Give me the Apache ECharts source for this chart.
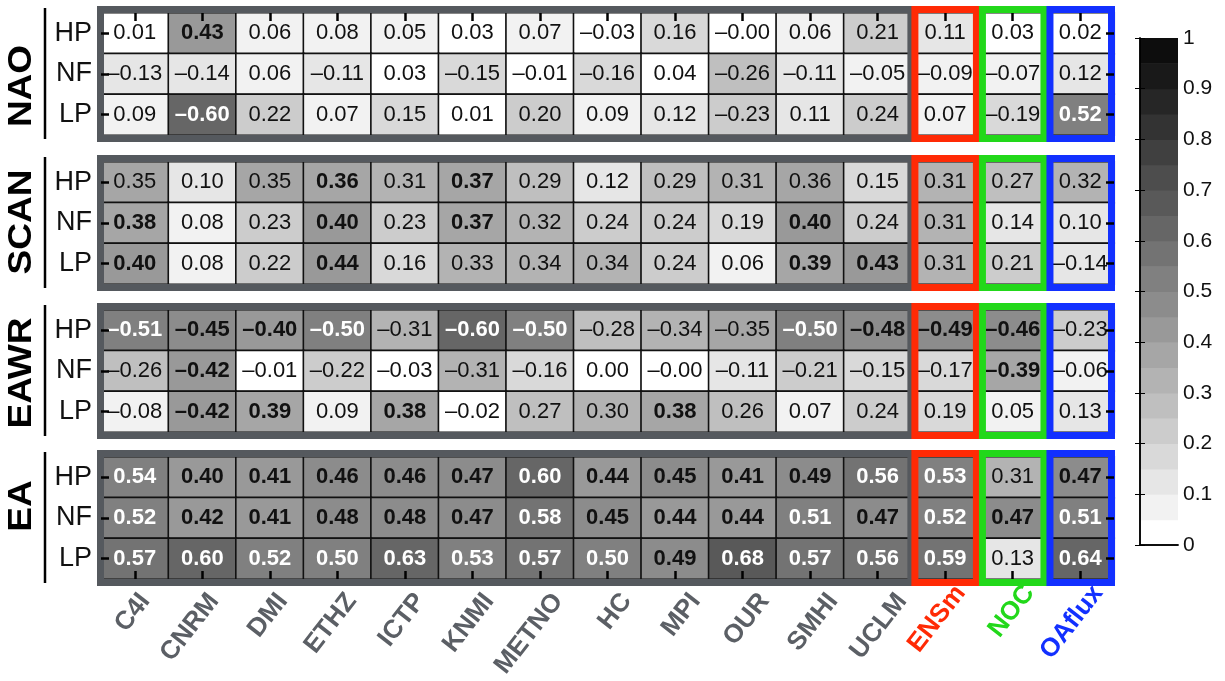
<!DOCTYPE html>
<html>
<head>
<meta charset="utf-8">
<script src="https://cdn.jsdelivr.net/npm/echarts@6/dist/echarts.min.js"></script>
<style>
  html, body { margin: 0; padding: 0; background: #fff; }
  #chart { width: 1225px; height: 681px; }
</style>
</head>
<body>
<div id="chart"></div>
<script>
// Correlations of climate modes with heat-flux components, per model / dataset
const models = ['C4I', 'CNRM', 'DMI', 'ETHZ', 'ICTP', 'KNMI', 'METNO', 'HC', 'MPI', 'OUR', 'SMHI', 'UCLM', 'ENSm', 'NOC', 'OAflux'];
const components = ['HP', 'NF', 'LP'];
const modes = ['NAO', 'SCAN', 'EAWR', 'EA'];

const naoValues = [
  [0.01, 0.43, 0.06, 0.08, 0.05, 0.03, 0.07, -0.03, 0.16, -0, 0.06, 0.21, 0.11, 0.03, 0.02],
  [-0.13, -0.14, 0.06, -0.11, 0.03, -0.15, -0.01, -0.16, 0.04, -0.26, -0.11, -0.05, -0.09, -0.07, 0.12],
  [0.09, -0.60, 0.22, 0.07, 0.15, 0.01, 0.20, 0.09, 0.12, -0.23, 0.11, 0.24, 0.07, -0.19, 0.52]
];
const scanValues = [
  [0.35, 0.10, 0.35, 0.36, 0.31, 0.37, 0.29, 0.12, 0.29, 0.31, 0.36, 0.15, 0.31, 0.27, 0.32],
  [0.38, 0.08, 0.23, 0.40, 0.23, 0.37, 0.32, 0.24, 0.24, 0.19, 0.40, 0.24, 0.31, 0.14, 0.10],
  [0.40, 0.08, 0.22, 0.44, 0.16, 0.33, 0.34, 0.34, 0.24, 0.06, 0.39, 0.43, 0.31, 0.21, -0.14]
];
const eawrValues = [
  [-0.51, -0.45, -0.40, -0.50, -0.31, -0.60, -0.50, -0.28, -0.34, -0.35, -0.50, -0.48, -0.49, -0.46, -0.23],
  [-0.26, -0.42, -0.01, -0.22, -0.03, -0.31, -0.16, 0.00, -0, -0.11, -0.21, -0.15, -0.17, -0.39, -0.06],
  [-0.08, -0.42, 0.39, 0.09, 0.38, -0.02, 0.27, 0.30, 0.38, 0.26, 0.07, 0.24, 0.19, 0.05, 0.13]
];
const eaValues = [
  [0.54, 0.40, 0.41, 0.46, 0.46, 0.47, 0.60, 0.44, 0.45, 0.41, 0.49, 0.56, 0.53, 0.31, 0.47],
  [0.52, 0.42, 0.41, 0.48, 0.48, 0.47, 0.58, 0.45, 0.44, 0.44, 0.51, 0.47, 0.52, 0.47, 0.51],
  [0.57, 0.60, 0.52, 0.50, 0.63, 0.53, 0.57, 0.50, 0.49, 0.68, 0.57, 0.56, 0.59, 0.13, 0.64]
];

// significant correlations (1 = significant, printed in bold)
const naoSignificant = ['010000000000000', '000000000000000', '010000000000001'];
const scanSignificant = ['000101000000000', '100101000010000', '100100000011000'];
const eawrSignificant = ['111101100011110', '010000000000010', '011010001000000'];
const eaSignificant = ['111111111111101', '111111111111111', '111111111111101'];

// colour-bar levels of |r|
const colorLevels = [0, 0.05, 0.1, 0.15, 0.2, 0.25, 0.3, 0.35, 0.4, 0.45, 0.5, 0.55, 0.6, 0.65, 0.7, 0.75, 0.8, 0.85, 0.9, 0.95, 1];
const colorTicks = [0, 0.1, 0.2, 0.3, 0.4, 0.5, 0.6, 0.7, 0.8, 0.9, 1];

const panelValues = [naoValues, scanValues, eawrValues, eaValues];
const panelSignificant = [naoSignificant, scanSignificant, eawrSignificant, eaSignificant];

// ---- styling / layout ----
const FONT = '"Liberation Sans", Arial, Helvetica, sans-serif';
const TEXT = '#111';
const FRAME_GRAY = '#55595e';
const LABEL_GRAY = '#5b5f65';
const RED = '#ff2a05';
const GREEN = '#22d81a';
const BLUE = '#1230ff';
const GRID_LEFT = 101;
const GRID_WIDTH = 1013;
const GRID_HEIGHT = 122;
const GRID_TOPS = [13, 162, 310, 457];
const TITLE_Y = [86, 222, 373, 506];
const FRAME_W = 7;

// column groups framed in each panel: models, ensemble mean, NOC, OAflux
const frameGroups = [[0, 11, FRAME_GRAY], [12, 12, RED], [13, 13, GREEN], [14, 14, BLUE]];

function grayOf(level) {
  const g = Math.round(255 * (1 - level));
  return 'rgb(' + g + ',' + g + ',' + g + ')';
}

function fmt(v) {
  const neg = v < 0 || Object.is(v, -0);
  return (neg ? '\u2013' : '') + Math.abs(v).toFixed(2);
}

const pieces = [];
for (let i = 0; i < colorLevels.length - 1; i++) {
  pieces.push({ gte: colorLevels[i], lt: i === colorLevels.length - 2 ? 1.0001 : colorLevels[i + 1], color: grayOf(colorLevels[i]) });
}

const grids = [], xAxes = [], yAxes = [], series = [], graphics = [];
const TICK = { show: true, inside: true, alignWithLabel: true, length: 8, lineStyle: { color: '#000', width: 2.5 } };
const modelLabels = models.map((m) => {
  const colors = { ENSm: RED, NOC: GREEN, OAflux: BLUE };
  return colors[m] ? { value: m, textStyle: { color: colors[m] } } : m;
});

modes.forEach((mode, p) => {
  grids.push({ left: GRID_LEFT, top: GRID_TOPS[p], width: GRID_WIDTH, height: GRID_HEIGHT });

  const isTop = p === 0, isBottom = p === modes.length - 1;
  xAxes.push({
    type: 'category', gridIndex: p, data: modelLabels,
    position: isTop ? 'top' : 'bottom', z: 10,
    axisLine: { show: false },
    axisTick: Object.assign({}, TICK, { show: isTop || isBottom }),
    axisLabel: { show: false },
    splitLine: { show: false }
  });
  yAxes.push({
    type: 'category', gridIndex: p, data: components, inverse: true, position: 'left', z: 10,
    axisLine: { show: false },
    axisTick: TICK,
    axisLabel: { fontSize: 27, color: TEXT, fontFamily: FONT, margin: 9 },
    splitLine: { show: false }
  });
  yAxes.push({
    type: 'category', gridIndex: p, data: components, inverse: true, position: 'right', z: 10,
    axisLine: { show: false },
    axisTick: TICK,
    axisLabel: { show: false },
    splitLine: { show: false }
  });

  // mode name and the rule beside it
  const top = GRID_TOPS[p], bottom = GRID_TOPS[p] + GRID_HEIGHT;
  graphics.push({
    type: 'line', z: 20,
    shape: { x1: 45, y1: top - 5, x2: 45, y2: bottom + 4 },
    style: { stroke: '#000', lineWidth: 2.5 }
  });
  graphics.push({
    type: 'text', z: 20, x: 22, y: TITLE_Y[p], rotation: Math.PI / 2, scaleY: 0.9,
    style: {
      text: mode, fill: '#000', font: 'bold 37px ' + FONT,
      textAlign: 'center', textVerticalAlign: 'middle'
    }
  });
});

// cells
modes.forEach((mode, p) => {
  const vals = panelValues[p], sig = panelSignificant[p];
  const data = [];
  vals.forEach((row, r) => {
    row.forEach((v, c) => {
      const bold = sig[r][c] === '1';
      const light = bold && Math.abs(v) >= 0.5;
      data.push({
        value: [c, r, v, Math.abs(v)],
        label: { fontWeight: bold ? 'bold' : 'normal', color: light ? '#fff' : TEXT }
      });
    });
  });
  series.push({
    type: 'heatmap', xAxisIndex: p, yAxisIndex: 2 * p, z: 2,
    data: data,
    itemStyle: { borderColor: '#111', borderWidth: 1.6 },
    label: {
      show: true, fontSize: 22, fontFamily: FONT,
      formatter: (params) => fmt(vals[params.data.value[1]][params.data.value[0]])
    },
    emphasis: { disabled: true }
  });
});

// frames around model block and reference columns
modes.forEach((mode, p) => {
  series.push({
    type: 'custom', xAxisIndex: p, yAxisIndex: 2 * p, z: 4, silent: true,
    data: frameGroups.map((g, i) => [g[0], g[1], i]),
    renderItem: (params, api) => {
      const cs = params.coordSys;
      const w = cs.width / models.length;
      const idx = api.value(2);
      const g = frameGroups[idx];
      let x0 = cs.x + g[0] * w, x1 = cs.x + (g[1] + 1) * w + 1;
      if (idx === 0) { x0 = cs.x - 4; x1 = cs.x + 12 * w + 3; }
      const y0 = cs.y - FRAME_W, y1 = cs.y + cs.height + FRAME_W;
      const h = FRAME_W / 2;
      return {
        type: 'rect',
        z2: idx,
        shape: { x: x0 + h, y: y0 + h, width: x1 - x0 - FRAME_W, height: y1 - y0 - FRAME_W },
        style: { fill: 'none', stroke: g[2], lineWidth: FRAME_W }
      };
    }
  });
});

// colour bar
const CB = modes.length;
grids.push({ left: 1140, top: 38, width: 38, height: 507 });
const cbEdge = { show: true, lineStyle: { color: '#000', width: 1.5 } };
const cbTick = { show: true, inside: true, length: 5, lineStyle: { color: '#000', width: 1 } };
xAxes.push({
  type: 'value', gridIndex: CB, min: 0, max: 1, position: 'bottom', z: 10,
  axisLine: cbEdge, axisTick: { show: false }, axisLabel: { show: false }, splitLine: { show: false }
});
xAxes.push({
  type: 'value', gridIndex: CB, min: 0, max: 1, position: 'top', z: 10,
  axisLine: cbEdge, axisTick: { show: false }, axisLabel: { show: false }, splitLine: { show: false }
});
yAxes.push({
  type: 'value', gridIndex: CB, min: 0, max: 1, interval: 0.1, position: 'right', z: 10,
  axisLine: cbEdge, axisTick: cbTick,
  axisLabel: {
    fontSize: 21, color: TEXT, fontFamily: FONT, margin: 5,
    formatter: (v) => {
      const t = colorTicks.find((k) => Math.abs(k - v) < 1e-6);
      return t === 0 ? '0' : t === 1 ? '1' : t.toFixed(1);
    }
  },
  splitLine: { show: false }
});
yAxes.push({
  type: 'value', gridIndex: CB, min: 0, max: 1, interval: 0.1, position: 'left', z: 10,
  axisLine: cbEdge, axisTick: cbTick, axisLabel: { show: false }, splitLine: { show: false }
});
const cbData = [];
for (let i = 0; i < colorLevels.length - 1; i++) cbData.push([colorLevels[i], colorLevels[i + 1]]);
series.push({
  type: 'custom', xAxisIndex: modes.length, yAxisIndex: 2 * modes.length, z: 2, silent: true,
  data: cbData,
  renderItem: (params, api) => {
    const lo = api.value(0), hi = api.value(1);
    const p0 = api.coord([0, lo]), p1 = api.coord([1, hi]);
    return {
      type: 'rect',
      shape: { x: p0[0], y: p1[1], width: p1[0] - p0[0], height: p0[1] - p1[1] + 0.5 },
      style: { fill: grayOf(lo), stroke: null }
    };
  }
});

// model-name row under the bottom panel (slightly wider spacing than the cells)
grids.push({ left: 100.5, top: GRID_TOPS[3], width: 1032, height: GRID_HEIGHT });
xAxes.push({
  type: 'category', gridIndex: CB + 1, data: modelLabels, position: 'bottom',
  axisLine: { show: false }, axisTick: { show: false }, splitLine: { show: false },
  axisLabel: {
    rotate: 52, margin: 12, fontSize: 26, fontWeight: 'bold', color: LABEL_GRAY,
    fontFamily: FONT, interval: 0, verticalAlign: 'top'
  }
});
yAxes.push({
  type: 'value', gridIndex: CB + 1, show: false
});

const chart = echarts.init(document.getElementById('chart'), null, { renderer: 'canvas' });
chart.setOption({
  backgroundColor: '#fff',
  animation: false,
  textStyle: { fontFamily: FONT },
  grid: grids,
  xAxis: xAxes,
  yAxis: yAxes,
  visualMap: {
    type: 'piecewise', show: false, dimension: 3,
    seriesIndex: [0, 1, 2, 3],
    pieces: pieces
  },
  graphic: graphics,
  series: series
});
</script>
</body>
</html>
